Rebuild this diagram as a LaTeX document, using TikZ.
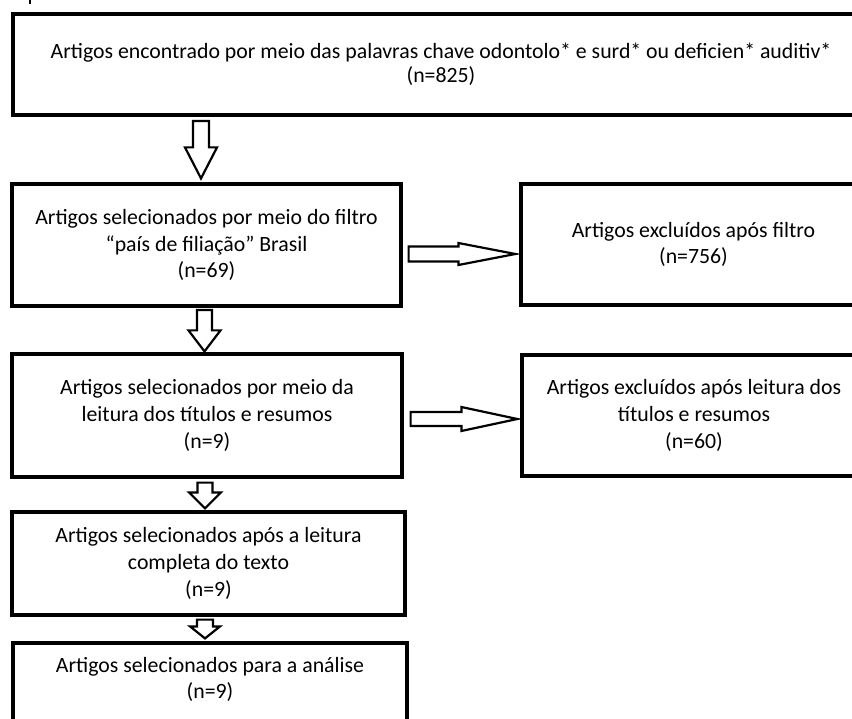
\documentclass[tikz,border=0pt]{standalone}
\usepackage{fontspec}
\setmainfont{Carlito}
\usetikzlibrary{calc}
\newcommand\dblk[5]{\draw[blk] let \p1=(#1), \p2=(#2) in (\x1-#3pt,\y1) -- (\x1+#3pt,\y1) -- (\x1+#3pt,\y2+#5pt) -- (\x1+#4pt,\y2+#5pt) -- (\x1,\y2) -- (\x1-#4pt,\y2+#5pt) -- (\x1-#3pt,\y2+#5pt) -- cycle;}
\newcommand\rblk[5]{\draw[blk] let \p1=(#1), \p2=(#2) in (\x1,\y1+#3pt) -- (\x2-#5pt,\y1+#3pt) -- (\x2-#5pt,\y1+#4pt) -- (\x2,\y1) -- (\x2-#5pt,\y1-#4pt) -- (\x2-#5pt,\y1-#3pt) -- (\x1,\y1-#3pt) -- cycle;}
\begin{document}
\begin{tikzpicture}[x=1pt,y=-1pt,
  box/.style={draw=black, line width=3.2pt, fill=white, inner sep=0pt, align=center,
    font=\fontsize{21.8}{26.6}\selectfont, text=black},
  bigbox/.style={box, line width=4pt},
  txt/.style={inner sep=0pt, align=center, font=\fontsize{21.8}{26.6}\selectfont, text=black},
  blk/.style={draw=black, line width=2.2pt, fill=white, line join=miter},
]
\useasboundingbox (0,0) rectangle (852,719);
\clip (0,0) rectangle (852,719);
\fill[white] (0,0) rectangle (852,719);

\draw[line width=2pt] (30,0) -- (30,4);

\node[bigbox, minimum width=857pt, minimum height=101pt] (b1) at (441,64.5)
  {Artigos encontrado por meio das palavras chave odontolo* e surd* ou deficien* auditiv*\\[-3pt](n=825)};
\node[box, minimum width=389pt, minimum height=122pt] (b2) at (206.5,245)
  {Artigos selecionados por meio do filtro\\“país de filiação” Brasil\\(n=69)};
\node[box, minimum width=345pt, minimum height=121pt] (b3) at (693.5,244.5)
  {Artigos excluídos após filtro\\(n=756)};
\node[box, minimum width=390pt, minimum height=123pt] (b4) at (207,415.5)
  {Artigos selecionados por meio da\\leitura dos títulos e resumos\\(n=9)};
\node[box, minimum width=344pt, minimum height=121pt] (b5) at (694,415.5)
  {Artigos excluídos após leitura dos\\títulos e resumos\\(n=60)};
\node[box, minimum width=393pt, minimum height=103pt] (b6) at (208.5,563.5)
  {Artigos selecionados após a leitura\\completa do texto\\(n=9)};
\node[box, minimum width=394pt, minimum height=100pt] (b7) at (210,693) {};
\node[txt] (t7) at (210,679.5) {Artigos selecionados para a análise\\(n=9)};

% down arrows
\coordinate (a1s) at ($(b2.north |- b1.south)+(-5.5,4)$);
\coordinate (a1e) at ($(b2.north)+(-5.5,-4)$);
\dblk{a1s}{a1e}{8}{16}{31}
\coordinate (a2s) at ($(b4.north |- b2.south)+(-2.5,2.5)$);
\coordinate (a2e) at ($(b4.north)+(-2.5,-1)$);
\dblk{a2s}{a2e}{7.5}{16}{21}
\coordinate (a3s) at ($(b6.north |- b4.south)+(-3.5,4)$);
\coordinate (a3e) at ($(b6.north)+(-3.5,-2)$);
\dblk{a3s}{a3e}{7.5}{16}{16}
\coordinate (a4s) at ($(b7.north |- b6.south)+(-5,3)$);
\coordinate (a4e) at ($(b7.north)+(-5,-3)$);
\dblk{a4s}{a4e}{8}{15}{12}

% right arrows
\coordinate (r1s) at ($(b2.east)+(6,9)$);
\coordinate (r1e) at ($(b3.west |- r1s)+(-4,0)$);
\rblk{r1s}{r1e}{7.5}{11}{57}
\coordinate (r2s) at ($(b4.east)+(7,3.5)$);
\coordinate (r2e) at ($(b5.west |- r2s)+(-3,0)$);
\rblk{r2s}{r2e}{7}{12}{56}
\end{tikzpicture}
\end{document}
